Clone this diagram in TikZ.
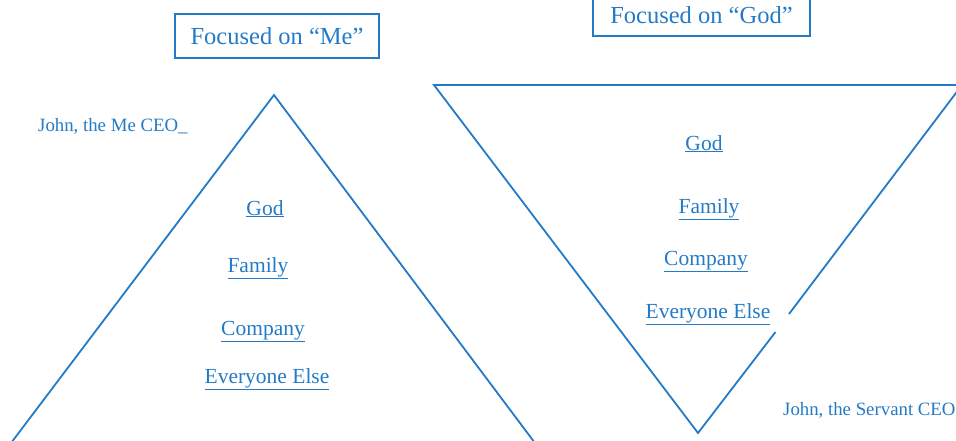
\documentclass[tikz,border=0pt]{standalone}
\usepackage{fontspec}
\setmainfont{Liberation Serif}
\definecolor{rblue}{RGB}{36,122,198}
\begin{document}
\begin{tikzpicture}[x=1pt,y=-1pt,
  edge/.style={draw=rblue,line width=1.8pt},
  titlebox/.style={draw=rblue,line width=1.8pt,text=rblue,font=\fontsize{24.5}{28}\selectfont,inner sep=0pt},
  lbl/.style={text=rblue,font=\fontsize{21.5}{24}\selectfont,anchor=base,inner sep=0pt},
  captext/.style={text=rblue,font=\fontsize{18.8}{22}\selectfont,anchor=base west,inner sep=0pt}]
\useasboundingbox (0,0) rectangle (956,440);
\clip (0,0) rectangle (956,440);
% titles
\node[titlebox,minimum width=204pt,minimum height=44pt] (tme) at (277,36) {Focused on “Me”};
\node[titlebox,minimum width=217pt,minimum height=42pt] (tgod) at (701.5,15) {Focused on “God”};
% left triangle
\coordinate (la) at (274,95);
\coordinate (lb) at (8,447);
\coordinate (lc) at (538,447);
\draw[edge] (lb) -- (la) -- (lc);
% right inverted triangle
\coordinate (ra) at (434,85);
\coordinate (rb) at (962,85);
\coordinate (rv) at (698,433);
\coordinate (g1) at (775.5,332);
\coordinate (g2) at (789,314);
\draw[edge,line join=miter] (rb) -- (ra) -- (rv) -- (g1);
\draw[edge] (g2) -- (rb);
% left labels
\node[lbl] (lgod) at (265,215) {\underline{God}};
\node[lbl] (lfam) at (258,272) {\underline{Family}};
\node[lbl] (lcom) at (263,335) {\underline{Company}};
\node[lbl] (leve) at (267,383) {\underline{Everyone Else}};
% right labels
\node[lbl] (rgod) at (704,150) {\underline{God}};
\node[lbl] (rfam) at (709,213) {\underline{Family}};
\node[lbl] (rcom) at (706,265) {\underline{Company}};
\node[lbl] (reve) at (708,318) {\underline{Everyone Else}};
% captions
\node[captext] (jme) at (38,131) {John, the Me CEO\_};
\node[captext] (jsv) at (783,415) {John, the Servant CEO};
\end{tikzpicture}
\end{document}
